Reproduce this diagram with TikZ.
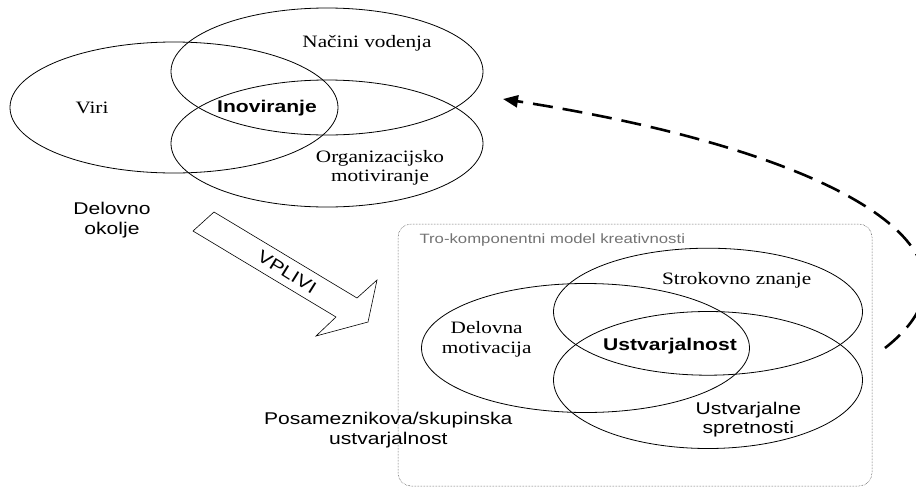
\documentclass[tikz,border=0pt]{standalone}
\usepackage{fontspec}
\setmainfont[FakeStretch=1.22]{Liberation Serif}
\setsansfont[FakeStretch=1.24]{Liberation Sans}
\usetikzlibrary{shapes.geometric,arrows.meta}

\begin{document}
\begin{tikzpicture}[x=1pt,y=-1pt]

\tikzset{
  set/.style={draw, ellipse, line width=0.8pt, inner sep=0pt},
  serif/.style={align=center, font=\fontsize{17.4}{19.5}\selectfont},
  sans/.style={align=center, font=\sffamily\fontsize{17}{19.5}\selectfont},
  core/.style={font=\sffamily\bfseries\fontsize{17}{19.5}\selectfont},
  feedback/.style={line width=2.6pt, dash pattern=on 20pt off 10pt, -{Triangle[length=15pt,width=12pt]}}
}

\useasboundingbox (0,0) rectangle (916,488);

\node[set, minimum width=328pt, minimum height=131pt] (S_viri) at (174,107.5) {};
\node[set, minimum width=312pt, minimum height=127pt] (S_vodenje) at (327,71.5) {};
\node[set, minimum width=312pt, minimum height=127pt] (S_org) at (327,143.5) {};
\node[serif] (T_vodenje) at (367,43) {Načini vodenja};
\node[serif] (T_viri) at (92,108) {Viri};
\node[core] (T_inov) at (267,108) {Inoviranje};
\node[serif] (T_org) at (380,168) {Organizacijsko\\motiviranje};
\node[sans] (T_okolje) at (112,220) {Delovno\\okolje};

\draw[line width=0.6pt] (193,231) -- (214,212) -- (357,298) -- (377,280) -- (368,322) -- (316,336) -- (336,317) -- cycle;
\node[sans, rotate=-32] (T_vplivi) at (287,272) {VPLIVI};

\node[draw=black!85, densely dotted, line width=0.5pt, rounded corners=13pt, minimum width=474pt, minimum height=262pt] (model) at (635,355) {};
\node[anchor=west, text=black!55, font=\sffamily\fontsize{13.5}{15}\selectfont] (T_model) at (416,240) {Tro-komponentni model kreativnosti};

\node[set, minimum width=328pt, minimum height=129pt] (S_mot) at (585.5,348) {};
\node[set, minimum width=309pt, minimum height=127pt] (S_znanje) at (708,311.7) {};
\node[set, minimum width=309pt, minimum height=137pt] (S_spret) at (708,380) {};
\node[serif] (T_znanje) at (736.7,280.7) {Strokovno znanje};
\node[serif] (T_mot) at (486.7,339.2) {Delovna\\motivacija};
\node[core] (T_ustv) at (670,346) {Ustvarjalnost};
\node[sans] (T_spret) at (748.3,419.7) {Ustvarjalne\\spretnosti};
\node[sans] (T_pos) at (388.3,430) {Posameznikova/skupinska\\ustvarjalnost};

\coordinate (fb_from) at (885,348);
\coordinate (fb_to) at (503,99);
\draw[feedback] (fb_from) .. controls (1010,250) and (830,150) .. (fb_to);

\end{tikzpicture}
\end{document}
